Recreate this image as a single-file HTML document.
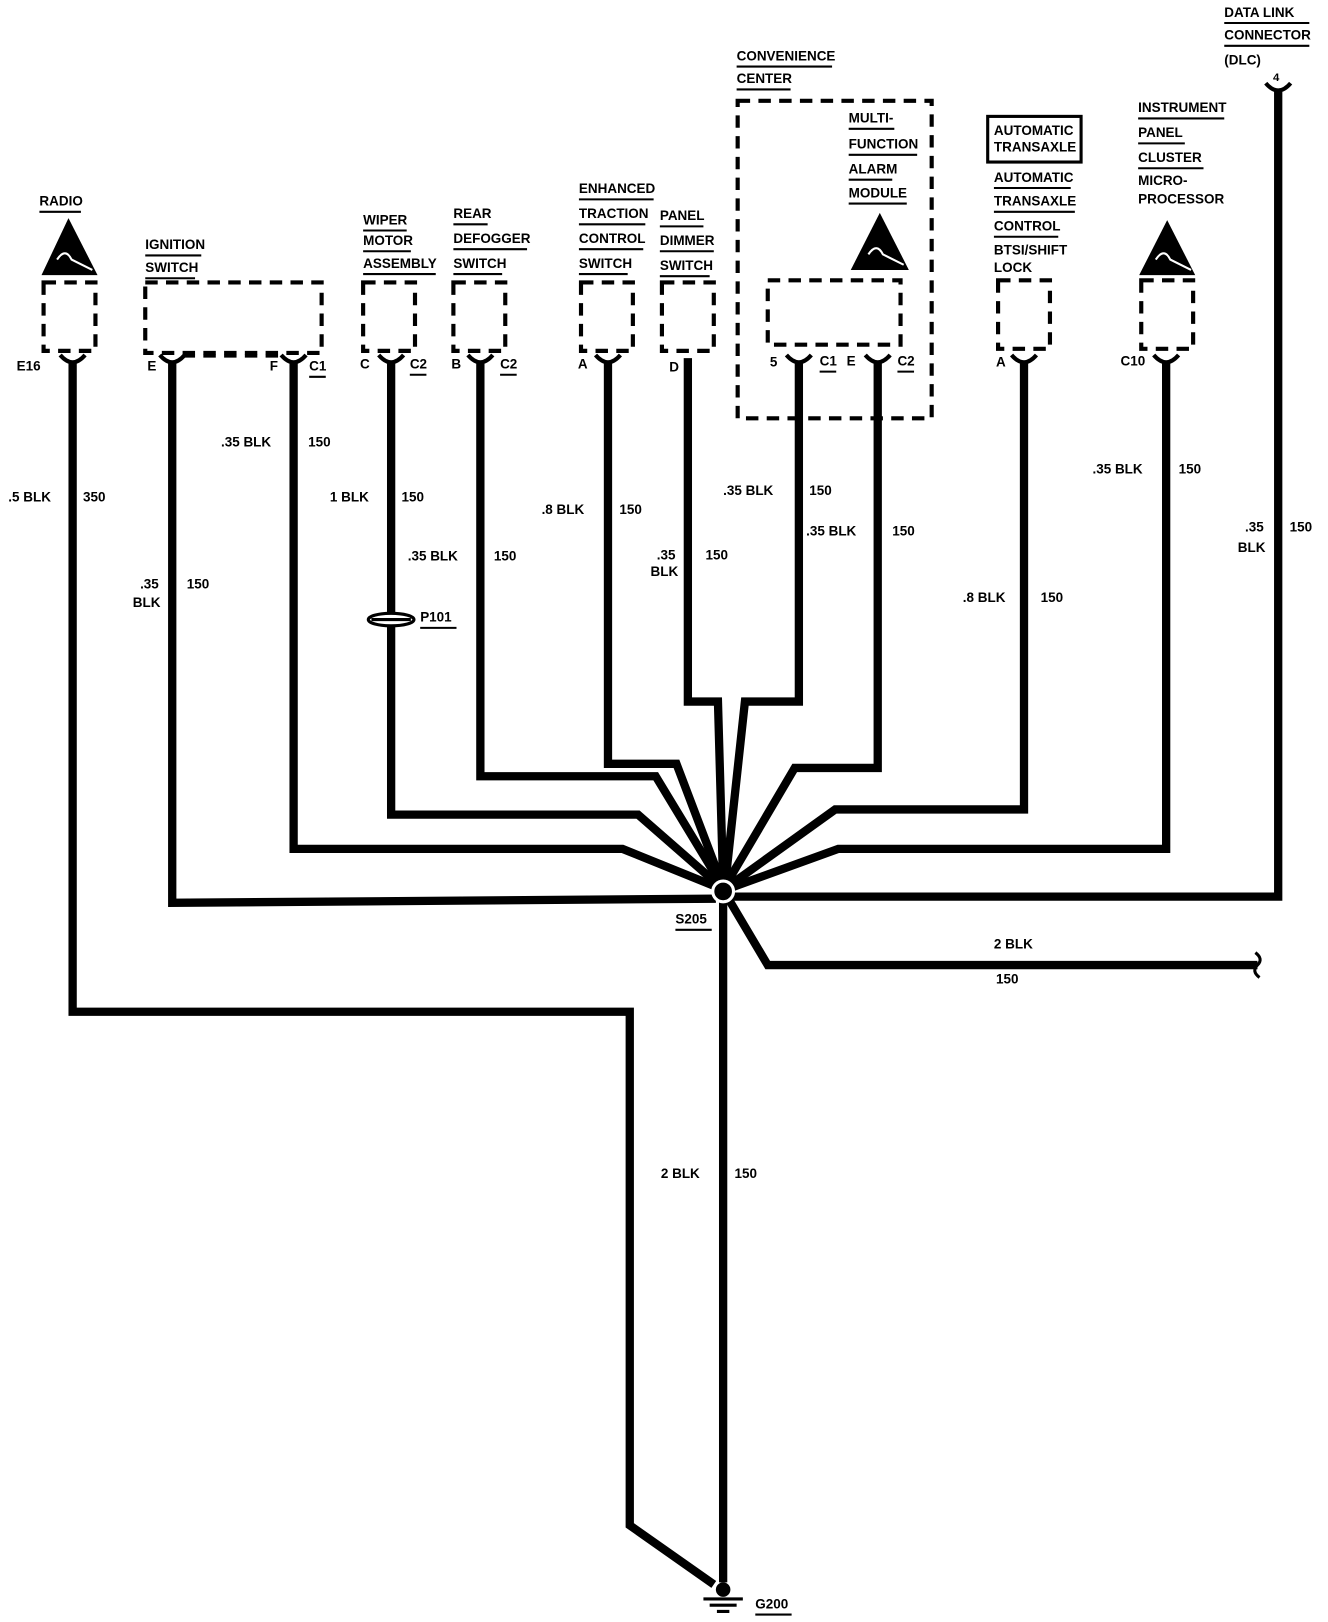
<!DOCTYPE html>
<html><head><meta charset="utf-8"><style>
html,body{margin:0;padding:0;background:#fff;}
svg{display:block;}
text{font-family:"Liberation Sans",sans-serif;font-weight:bold;font-size:13px;fill:#000;}
</style></head><body>
<svg width="1328" height="1622" viewBox="0 0 1280 1563" xmlns="http://www.w3.org/2000/svg">
<g fill="none" stroke="#000" stroke-width="8" stroke-linejoin="miter">
<!-- radio to ground -->
<polyline points="70,350 70,975 607,975 607,1470 688,1527"/>
<!-- main vertical -->
<line x1="697" y1="860" x2="697" y2="1525"/>
<!-- ignition E and DLC -->
<polyline points="166,350 166,870 690,866"/>
<polyline points="704,864 1232,864 1232,88"/>
<!-- ignition F -->
<polyline points="283,350 283,818 600,818 694,856"/>
<!-- wiper -->
<polyline points="377,350 377,785 615,785 694,854"/>
<!-- defogger -->
<polyline points="463,350 463,748 632,748 695,852"/>
<!-- traction -->
<polyline points="586,350 586,736 652,736 696,852"/>
<!-- dimmer -->
<polyline points="663,345 663,676 692,676 697,852"/>
<!-- conv 5 -->
<polyline points="770,350 770,676 718,676 699,852"/>
<!-- conv E -->
<polyline points="846,350 846,740 766,740 700,852"/>
<!-- trans -->
<polyline points="987,350 987,780 805,780 702,854"/>
<!-- cluster -->
<polyline points="1124,350 1124,818 808,818 703,856"/>
<!-- 2 BLK branch -->
<polyline points="702,866 740,930 1212,930"/>
</g>
<path d="M1210,918 q8,6 2,12 q-6,6 2,12" fill="none" stroke="#000" stroke-width="3"/>
<!-- splice -->
<circle cx="697" cy="859" r="10" fill="#000" stroke="#fff" stroke-width="3"/>
<!-- ground -->
<circle cx="697" cy="1532" r="7" fill="#000"/>
<line x1="678" y1="1541" x2="716" y2="1541" stroke="#000" stroke-width="3"/>
<line x1="684" y1="1547" x2="710" y2="1547" stroke="#000" stroke-width="3"/>
<line x1="691" y1="1553" x2="703" y2="1553" stroke="#000" stroke-width="3"/>
<!-- P101 -->
<g stroke="#000" fill="#fff" stroke-width="3">
<ellipse cx="377" cy="597" rx="22" ry="6"/>
<line x1="358" y1="597" x2="396" y2="597"/>
</g>
<!-- dashed boxes -->
<g fill="none" stroke="#000" stroke-width="4" stroke-dasharray="12,8">
<rect x="42" y="272" width="50" height="66"/>
<rect x="140" y="272" width="170" height="68"/>
<line x1="176" y1="343" x2="268" y2="343" stroke-width="3"/>
<rect x="350" y="272" width="50" height="66"/>
<rect x="437" y="272" width="50" height="66"/>
<rect x="560" y="272" width="50" height="66"/>
<rect x="638" y="272" width="50" height="66"/>
<rect x="740" y="270" width="128" height="62"/>
<rect x="711" y="97" width="187" height="306"/>
<rect x="962" y="270" width="50" height="66"/>
<rect x="1100" y="270" width="50" height="66"/>
</g>
<!-- connector cups -->
<g fill="none" stroke="#000" stroke-width="4">
<path d="M58,342 q12,14 24,0"/><path d="M154,342 q12,14 24,0"/><path d="M271,342 q12,14 24,0"/>
<path d="M365,342 q12,14 24,0"/><path d="M451,342 q12,14 24,0"/><path d="M574,342 q12,14 24,0"/>
<path d="M758,342 q12,14 24,0"/><path d="M834,342 q12,14 24,0"/><path d="M975,342 q12,14 24,0"/>
<path d="M1112,342 q12,14 24,0"/><path d="M1220,80 q12,14 24,0"/>
</g>
<!-- ESD icons -->
<g fill="#000">
<polygon points="66,210 40,265 94,265"/>
<polygon points="848,205 820,260 876,260"/>
<polygon points="1125,212 1098,265 1152,265"/>
</g>
<g fill="none" stroke="#fff" stroke-width="2">
<path d="M55,250 q8,-12 14,0 l20,10"/><path d="M837,245 q8,-12 14,0 l20,10"/><path d="M1114,250 q8,-12 14,0 l20,10"/>
</g>
<!-- underlines -->
<g stroke="#000" stroke-width="2">
<line x1="38" y1="204" x2="78" y2="204"/>
<line x1="140" y1="246" x2="194" y2="246"/><line x1="140" y1="268" x2="188" y2="268"/>
<line x1="350" y1="222" x2="392" y2="222"/><line x1="350" y1="242" x2="396" y2="242"/><line x1="350" y1="264" x2="420" y2="264"/>
<line x1="437" y1="216" x2="470" y2="216"/><line x1="437" y1="240" x2="508" y2="240"/><line x1="437" y1="264" x2="484" y2="264"/>
<line x1="558" y1="192" x2="630" y2="192"/><line x1="558" y1="216" x2="622" y2="216"/><line x1="558" y1="240" x2="620" y2="240"/><line x1="558" y1="264" x2="605" y2="264"/>
<line x1="636" y1="218" x2="678" y2="218"/><line x1="636" y1="242" x2="688" y2="242"/><line x1="636" y1="266" x2="684" y2="266"/>
<line x1="710" y1="64" x2="802" y2="64"/><line x1="710" y1="86" x2="762" y2="86"/>
<line x1="818" y1="124" x2="862" y2="124"/><line x1="818" y1="149" x2="884" y2="149"/><line x1="818" y1="173" x2="860" y2="173"/><line x1="818" y1="196" x2="874" y2="196"/>
<line x1="958" y1="181" x2="1032" y2="181"/><line x1="958" y1="204" x2="1036" y2="204"/><line x1="958" y1="228" x2="1020" y2="228"/>
<line x1="1097" y1="114" x2="1180" y2="114"/><line x1="1097" y1="138" x2="1142" y2="138"/><line x1="1097" y1="162" x2="1160" y2="162"/>
<line x1="1180" y1="22" x2="1262" y2="22"/><line x1="1180" y1="44" x2="1262" y2="44"/>
<line x1="298" y1="363" x2="314" y2="363"/><line x1="395" y1="361" x2="411" y2="361"/><line x1="482" y1="361" x2="498" y2="361"/>
<line x1="790" y1="358" x2="806" y2="358"/><line x1="865" y1="358" x2="881" y2="358"/>
<line x1="405" y1="605" x2="440" y2="605"/><line x1="651" y1="896" x2="686" y2="896"/><line x1="728" y1="1556" x2="763" y2="1556"/>
</g>
<rect x="952" y="112" width="90" height="44" fill="none" stroke="#000" stroke-width="3"/>
<!-- labels -->
<text x="38" y="198">RADIO</text>
<text x="140" y="240">IGNITION</text><text x="140" y="262">SWITCH</text>
<text x="350" y="216">WIPER</text><text x="350" y="236">MOTOR</text><text x="350" y="258">ASSEMBLY</text>
<text x="437" y="210">REAR</text><text x="437" y="234">DEFOGGER</text><text x="437" y="258">SWITCH</text>
<text x="558" y="186">ENHANCED</text><text x="558" y="210">TRACTION</text><text x="558" y="234">CONTROL</text><text x="558" y="258">SWITCH</text>
<text x="636" y="212">PANEL</text><text x="636" y="236">DIMMER</text><text x="636" y="260">SWITCH</text>
<text x="710" y="58">CONVENIENCE</text><text x="710" y="80">CENTER</text>
<text x="818" y="118">MULTI-</text><text x="818" y="143">FUNCTION</text><text x="818" y="167">ALARM</text><text x="818" y="190">MODULE</text>
<text x="958" y="130">AUTOMATIC</text><text x="958" y="146">TRANSAXLE</text>
<text x="958" y="175">AUTOMATIC</text><text x="958" y="198">TRANSAXLE</text><text x="958" y="222">CONTROL</text><text x="958" y="245">BTSI/SHIFT</text><text x="958" y="262">LOCK</text>
<text x="1097" y="108">INSTRUMENT</text><text x="1097" y="132">PANEL</text><text x="1097" y="156">CLUSTER</text><text x="1097" y="178">MICRO-</text><text x="1097" y="196">PROCESSOR</text>
<text x="1180" y="16">DATA LINK</text><text x="1180" y="38">CONNECTOR</text><text x="1180" y="62">(DLC)</text>
<text x="1227" y="78" style="font-size:11px">4</text>
<text x="16" y="357">E16</text><text x="142" y="357">E</text><text x="260" y="357">F</text><text x="298" y="357">C1</text>
<text x="347" y="355">C</text><text x="395" y="355">C2</text><text x="435" y="355">B</text><text x="482" y="355">C2</text>
<text x="557" y="355">A</text><text x="645" y="358">D</text><text x="742" y="353">5</text><text x="790" y="352">C1</text>
<text x="816" y="352">E</text><text x="865" y="352">C2</text><text x="960" y="353">A</text><text x="1080" y="352">C10</text>
<text x="213" y="430">.35 BLK</text><text x="297" y="430">150</text>
<text x="8" y="483">.5 BLK</text><text x="80" y="483">350</text>
<text x="135" y="567">.35</text><text x="128" y="585">BLK</text><text x="180" y="567">150</text>
<text x="318" y="483">1 BLK</text><text x="387" y="483">150</text>
<text x="393" y="540">.35 BLK</text><text x="476" y="540">150</text>
<text x="522" y="495">.8 BLK</text><text x="597" y="495">150</text>
<text x="697" y="477">.35 BLK</text><text x="780" y="477">150</text>
<text x="633" y="539">.35</text><text x="627" y="555">BLK</text><text x="680" y="539">150</text>
<text x="777" y="516">.35 BLK</text><text x="860" y="516">150</text>
<text x="1053" y="456">.35 BLK</text><text x="1136" y="456">150</text>
<text x="928" y="580">.8 BLK</text><text x="1003" y="580">150</text>
<text x="1200" y="512">.35</text><text x="1193" y="532">BLK</text><text x="1243" y="512">150</text>
<text x="958" y="914">2 BLK</text><text x="960" y="948">150</text>
<text x="637" y="1135">2 BLK</text><text x="708" y="1135">150</text>
<text x="405" y="599">P101</text><text x="651" y="890">S205</text><text x="728" y="1550">G200</text>
</svg>
</body></html>
